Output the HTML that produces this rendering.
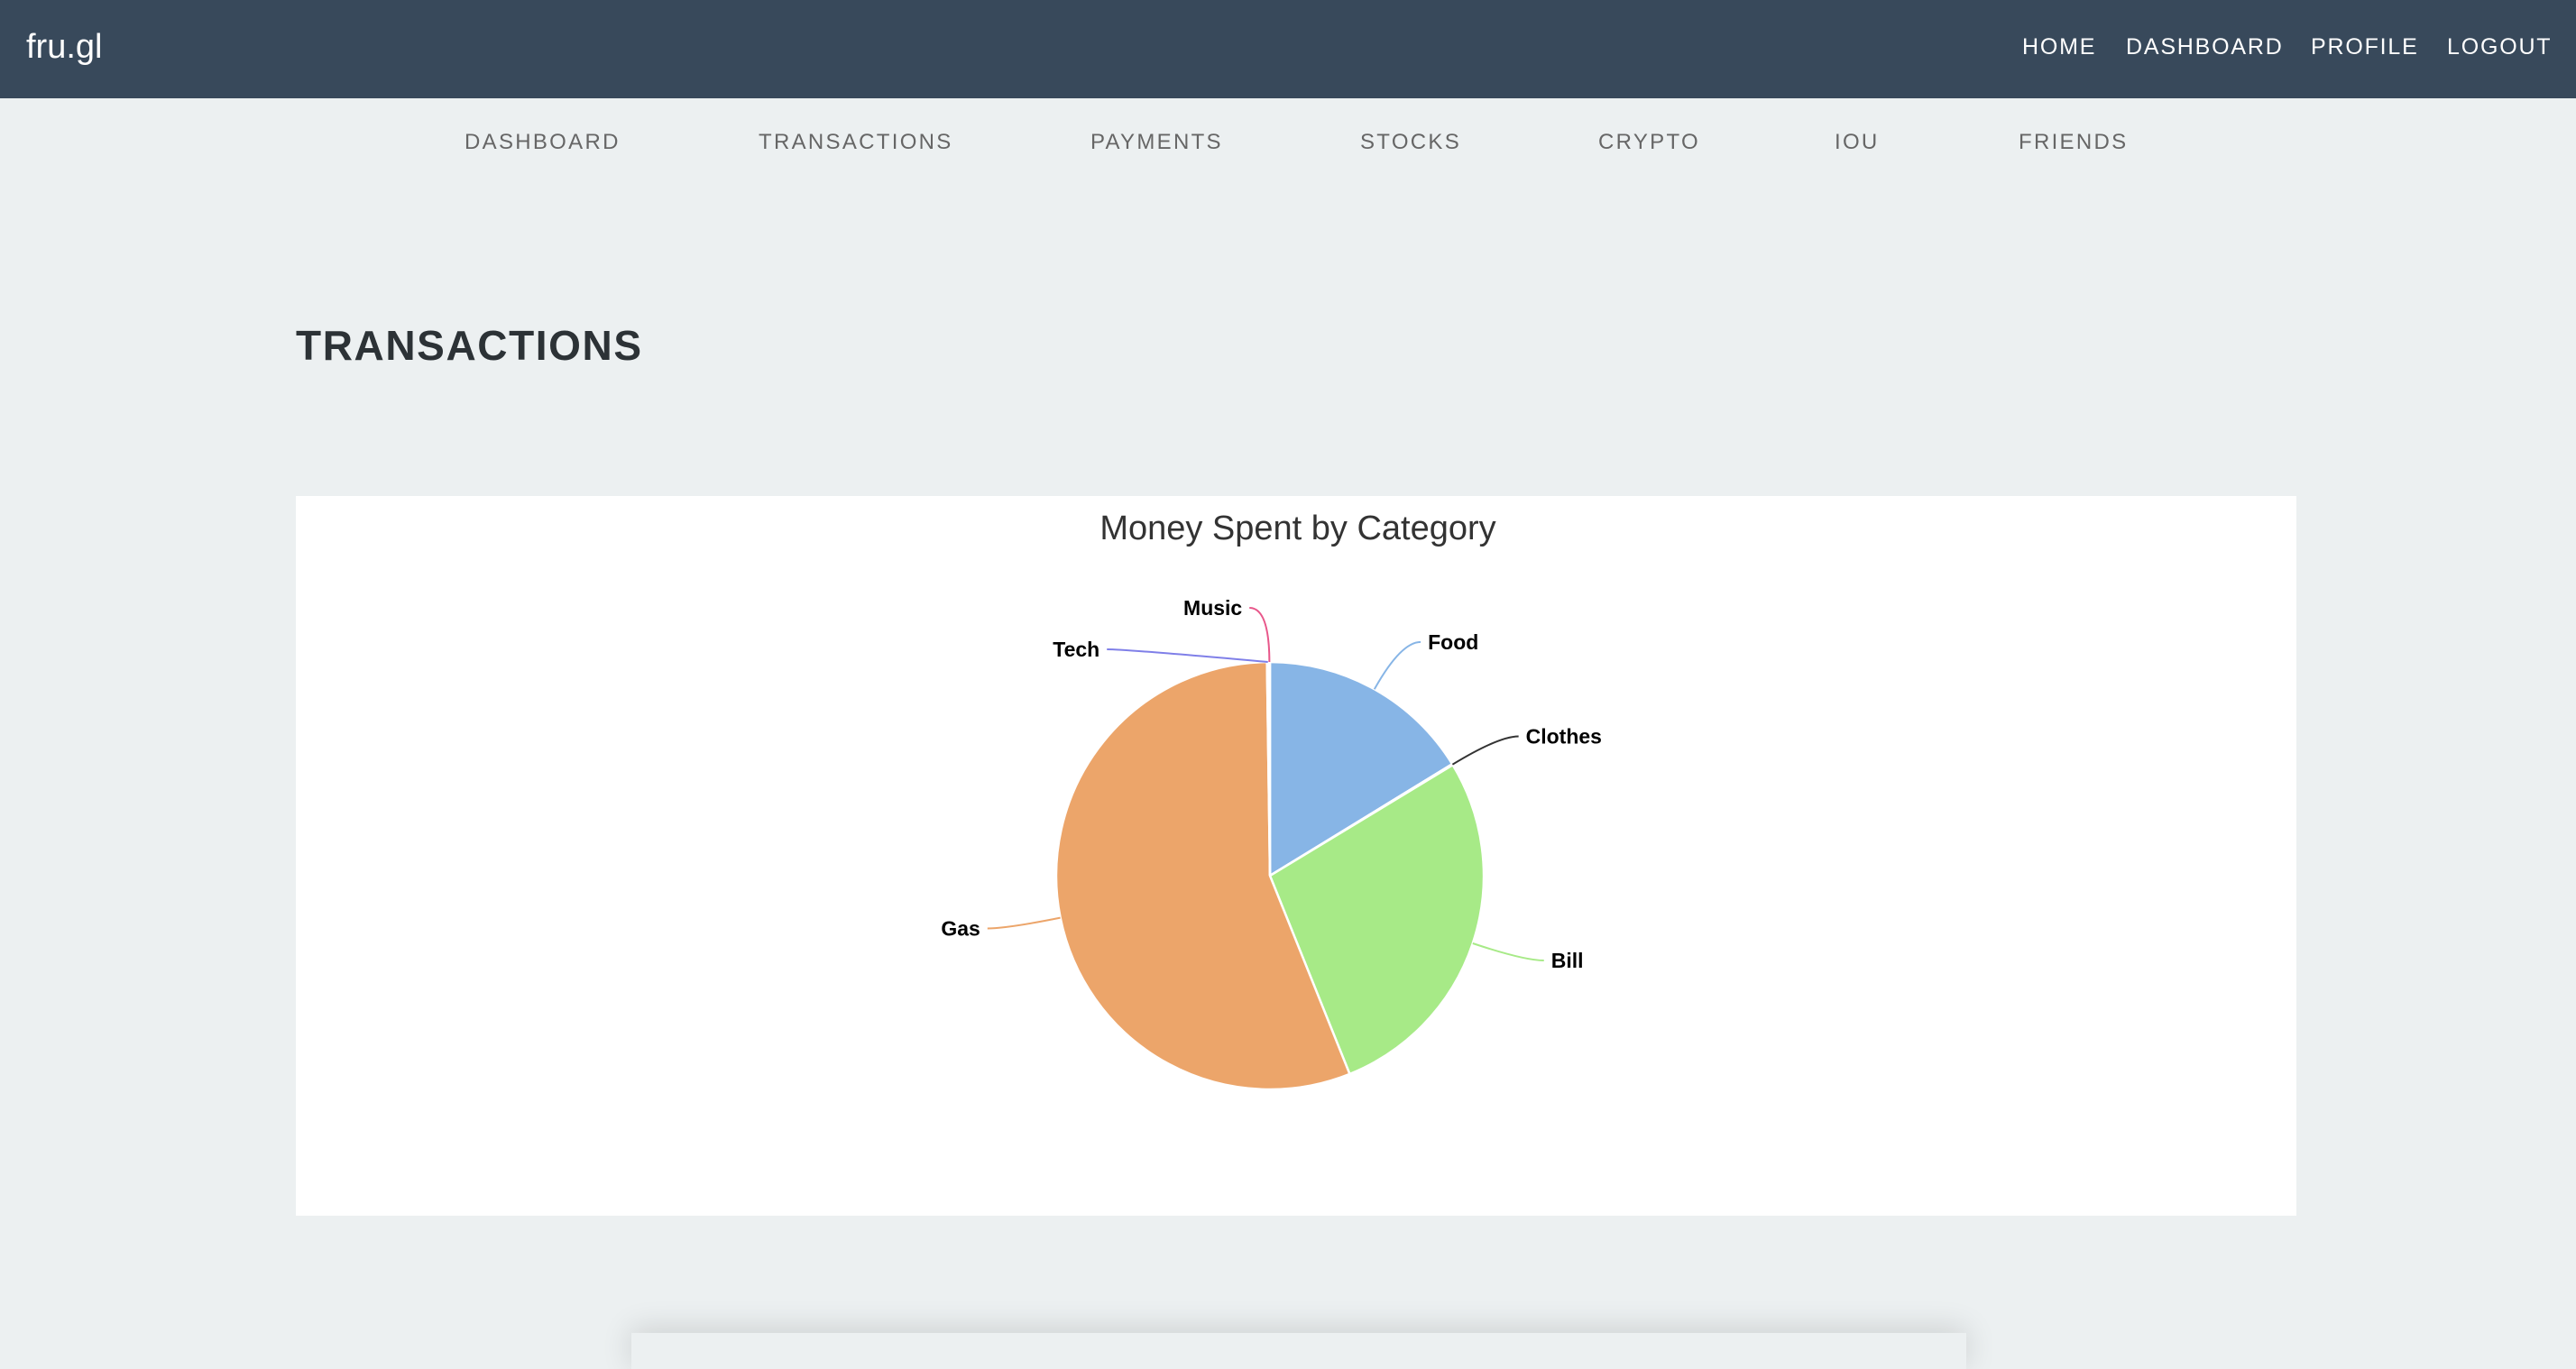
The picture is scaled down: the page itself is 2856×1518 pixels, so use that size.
<!DOCTYPE html>
<html><head><meta charset="utf-8"><style>
body{margin:0;width:2856px;height:1478px;background:#ecf0f1;font-family:"Liberation Sans",sans-serif;overflow:hidden;position:relative}
.hdr{position:absolute;left:0;top:0;width:2856px;height:109px;background:#38495b}
.logo{position:absolute;left:29px;top:31px;color:#fff;font-size:38px}
.rnav{position:absolute;top:38px;color:#fff;font-size:25px;letter-spacing:1.8px}
.sub{position:absolute;top:144px;color:#666;font-size:24px;letter-spacing:2.3px}
.h1{position:absolute;left:328px;top:356px;font-size:46px;font-weight:bold;letter-spacing:1.6px;color:#2c3236}
.panel{position:absolute;left:328px;top:550px;width:2218px;height:798px;background:#fff}
.shadow{position:absolute;left:700px;top:1478px;width:1480px;height:40px;background:#ecf0f1;box-shadow:0 -4px 34px rgba(0,0,0,0.14)}
</style></head><body>
<div class="hdr">
<div class="logo">fru.gl</div>
<div class="rnav" style="left:2242px">HOME</div>
<div class="rnav" style="left:2357px">DASHBOARD</div>
<div class="rnav" style="left:2562px">PROFILE</div>
<div class="rnav" style="left:2713px">LOGOUT</div>
</div>
<div class="sub" style="left:515px">DASHBOARD</div>
<div class="sub" style="left:841px">TRANSACTIONS</div>
<div class="sub" style="left:1209px">PAYMENTS</div>
<div class="sub" style="left:1508px">STOCKS</div>
<div class="sub" style="left:1772px">CRYPTO</div>
<div class="sub" style="left:2034px">IOU</div>
<div class="sub" style="left:2238px">FRIENDS</div>
<div class="h1">TRANSACTIONS</div>
<div class="panel"></div>
<svg id="chart" width="2856" height="1478" style="position:absolute;left:0;top:0">
<text x="1439" y="598" text-anchor="middle" font-size="38" fill="#333" font-family="Liberation Sans, sans-serif">Money Spent by Category</text>
</svg>
<div class="shadow"></div>
<script>
const categories=["Food","Clothes","Bill","Gas","Tech","Music"];
const values=[58.5,0.3,99.3,201.1,0.5,0.3];
const colors=["#87b5e6","#333333","#a7ea87","#eca56a","#7f7fe8","#e8578a"];
const svg=document.getElementById('chart');
const NS="http://www.w3.org/2000/svg";
const cx=1408,cy=971,r=237,d=60,gap=30;
const total=values.reduce((a,b)=>a+b,0);
function pt(a,rad){return [cx+rad*Math.sin(a),cy-rad*Math.cos(a)];}
let start=0;const labels=[];
values.forEach((v,i)=>{
  const sweep=v/total*2*Math.PI,end=start+sweep;
  const p0=pt(start,r),p1=pt(end,r);
  const path=document.createElementNS(NS,'path');
  path.setAttribute('d',`M${cx},${cy}L${p0[0]},${p0[1]}A${r},${r} 0 ${sweep>Math.PI?1:0} 1 ${p1[0]},${p1[1]}Z`);
  path.setAttribute('fill',colors[i]);path.setAttribute('stroke','#fff');path.setAttribute('stroke-width','2.5');
  
  
  svg.appendChild(path);
  const mid=start+sweep/2;
  labels.push({i,mid,y:cy-(r+d)*Math.cos(mid),left:Math.sin(mid)<0||mid>Math.PI*1.9});
  start=end;
});
[true,false].forEach(side=>{
  const L=labels.filter(l=>l.left===side).sort((a,b)=>a.y-b.y);
  for(let k=1;k<L.length;k++){if(L[k].y-L[k-1].y<46)L[k].y=L[k-1].y+46;}
});
labels.forEach(l=>{
  const R=r+d,dy=l.y-cy;
  const dx=Math.sqrt(Math.max(0,R*R-dy*dy));
  const ax=l.left?cx-dx:cx+dx;
  const e=pt(l.mid,r);
  const tx=l.left?ax-gap:ax+gap;
  const c=document.createElementNS(NS,'path');
  c.setAttribute('d',`M${e[0]},${e[1]}Q${ax},${l.y} ${l.left?ax-gap+8:ax+gap-8},${l.y}`);
  c.setAttribute('fill','none');c.setAttribute('stroke',colors[l.i]);c.setAttribute('stroke-width','2');
  
  
  svg.appendChild(c);
  const t=document.createElementNS(NS,'text');
  t.setAttribute('x',tx);t.setAttribute('y',l.y+8);
  t.setAttribute('text-anchor',l.left?'end':'start');
  t.setAttribute('font-size','23');t.setAttribute('font-weight','bold');
  t.setAttribute('font-family','Liberation Sans, sans-serif');t.setAttribute('fill','#000');
  t.textContent=categories[l.i];
  
  
  svg.appendChild(t);
});
</script>
</body></html>
